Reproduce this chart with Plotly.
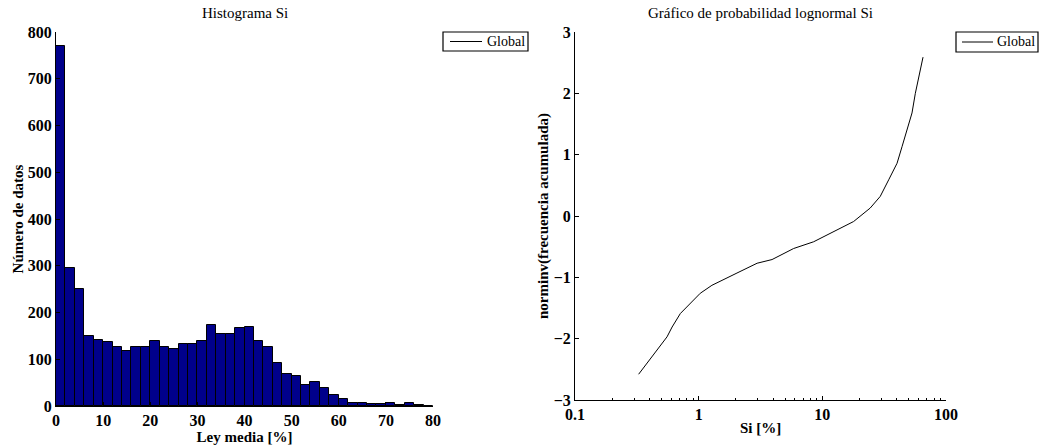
import plotly.graph_objects as go

# Histogram of Si grades: bin centres (2 % wide bins) and counts
bin_centers = [1, 3, 5, 7, 9, 11, 13, 15, 17, 19, 21, 23, 25, 27, 29, 31, 33, 35, 37, 39,
               41, 43, 45, 47, 49, 51, 53, 55, 57, 59, 61, 63, 65, 67, 69, 71, 73, 75, 77, 79]
bin_counts = [770, 296, 250, 149, 142, 136, 127, 117, 127, 126, 138, 127, 121, 132, 132, 140,
              174, 154, 154, 166, 168, 140, 126, 93, 68, 65, 45, 51, 38, 23, 14, 6, 6, 5, 5,
              6, 3, 6, 3, 0]

# Lognormal probability plot: grade (%) vs. norminv of cumulative frequency
si_grade = [0.327, 0.555, 0.61, 0.711, 1.03, 1.28, 2.04, 2.97, 3.92, 5.86, 8.51, 11.6,
            17.9, 24.4, 29.4, 34.4, 40.2, 44.1, 48.4, 53.1, 56.5, 61.2, 65.2]
norminv_freq = [-2.58, -1.97, -1.81, -1.59, -1.26, -1.13, -0.93, -0.77, -0.71, -0.53, -0.42,
                -0.28, -0.09, 0.13, 0.32, 0.59, 0.86, 1.13, 1.41, 1.68, 2.0, 2.33, 2.59]

series_name = "Global"

W, H = 1042, 445
SERIF = "Liberation Serif"
BAR_FILL = "#00008B"

tick_font = dict(family=SERIF, size=16, color="black", weight="bold")
title_font = dict(family=SERIF, size=15, color="black", weight="bold")


def px_x(p):
    return p / W


def px_y(p):
    return 1 - p / H


fig = go.Figure()

fig.add_trace(go.Bar(
    x=bin_centers, y=bin_counts, width=2, name=series_name,
    marker=dict(color=BAR_FILL, line=dict(color="black", width=1)),
    showlegend=False, xaxis="x", yaxis="y",
))

fig.add_trace(go.Scatter(
    x=si_grade, y=norminv_freq, mode="lines", name=series_name,
    line=dict(color="black", width=1), xaxis="x2", yaxis="y2", showlegend=False,
))

axis_common = dict(
    showline=True, linecolor="black", linewidth=1, mirror=False, automargin=False,
    ticks="inside", ticklen=4, tickcolor="black", showgrid=False, zeroline=False,
    tickfont=tick_font,
)

minor_log = [k * 10 ** e for e in (-1, 0, 1) for k in range(2, 10)]

# compact boxed legend keys (line sample + label) for each panel
legend_boxes = [
    dict(box=(443, 528, 32, 51), line=(450, 482), text_x=485),
    dict(box=(956, 1038, 32, 52), line=(962, 993), text_x=995),
]
shapes = []
annotations = []
for lb in legend_boxes:
    x0, x1, y0, y1 = lb["box"]
    ymid = (y0 + y1) / 2
    shapes.append(dict(type="rect", xref="paper", yref="paper",
                       x0=px_x(x0), x1=px_x(x1), y0=px_y(y1), y1=px_y(y0),
                       line=dict(color="black", width=1.2), fillcolor="white", layer="above"))
    shapes.append(dict(type="line", xref="paper", yref="paper",
                       x0=px_x(lb["line"][0]), x1=px_x(lb["line"][1]),
                       y0=px_y(ymid), y1=px_y(ymid),
                       line=dict(color="black", width=1), layer="above"))
    annotations.append(dict(text=series_name, x=px_x(lb["text_x"]), y=px_y(ymid),
                            xref="paper", yref="paper", xanchor="left", yanchor="middle",
                            showarrow=False,
                            font=dict(family=SERIF, size=14, color="black")))

annotations += [
    dict(text="Histograma Si", x=px_x(245), y=px_y(13), xref="paper", yref="paper",
         xanchor="center", yanchor="middle", showarrow=False,
         font=dict(family=SERIF, size=15, color="black")),
    dict(text="Gráfico de probabilidad lognormal Si", x=px_x(760), y=px_y(13),
         xref="paper", yref="paper", xanchor="center", yanchor="middle", showarrow=False,
         font=dict(family=SERIF, size=15, color="black")),
]

fig.update_layout(
    width=W, height=H,
    margin=dict(l=0, r=0, t=0, b=0, autoexpand=False),
    paper_bgcolor="white", plot_bgcolor="white",
    bargap=0,
    showlegend=False,
    xaxis=dict(
        domain=[px_x(56), px_x(433)], range=[0, 80], dtick=10, anchor="y",
        title=dict(text="Ley media [%]", font=title_font, standoff=0),
        **axis_common,
    ),
    yaxis=dict(
        domain=[px_y(406), px_y(32)], range=[0, 800], dtick=100, anchor="x",
        title=dict(text="Número de datos", font=title_font, standoff=0),
        **axis_common,
    ),
    xaxis2=dict(
        domain=[px_x(575), px_x(946)], type="log", range=[-1, 2], anchor="y2",
        tickvals=[0.1, 1, 10, 100], ticktext=["0.1", "1", "10", "100"],
        minor=dict(ticks="inside", ticklen=2, tickcolor="black", tickvals=minor_log),
        title=dict(text="Si [%]", font=title_font, standoff=0),
        **axis_common,
    ),
    yaxis2=dict(
        domain=[px_y(400), px_y(32)], range=[-3, 3], dtick=1, anchor="x2",
        title=dict(text="norminv(frecuencia acumulada)", font=title_font, standoff=1),
        **axis_common,
    ),
    shapes=shapes,
    annotations=annotations,
)

fig.write_html("out.html")
